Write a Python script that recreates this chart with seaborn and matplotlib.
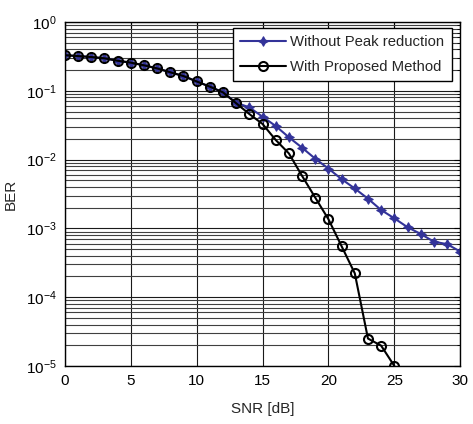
import matplotlib
matplotlib.use('Agg')
import matplotlib.pyplot as plt
from matplotlib.ticker import LogLocator, MultipleLocator, NullFormatter
import seaborn as sns
import pandas as pd

# BER curves (SNR in dB)
snr_without = list(range(0, 31))
ber_without = [0.33, 0.32, 0.31, 0.297, 0.274, 0.257, 0.235, 0.212, 0.186, 0.164,
               0.137, 0.115, 0.095, 0.067, 0.0575, 0.042, 0.0308, 0.0211, 0.0149,
               0.0103, 0.0074, 0.0052, 0.0038, 0.0027, 0.00185, 0.0014, 0.00104,
               0.00083, 0.00064, 0.00059, 0.00046]

snr_proposed = list(range(0, 26))
ber_proposed = [0.33, 0.32, 0.31, 0.297, 0.274, 0.257, 0.235, 0.212, 0.186, 0.164,
                0.137, 0.115, 0.095, 0.066, 0.046, 0.033, 0.0193, 0.0123, 0.0058,
                0.0028, 0.00136, 0.00055, 0.000222, 2.5e-5, 1.97e-5, 1.0e-5]

label_without = 'Without Peak reduction'
label_proposed = 'With Proposed Method'

sns.set_style('white')
plt.rcParams['font.family'] = ['Liberation Sans', 'DejaVu Sans']
plt.rcParams['mathtext.default'] = 'regular'

df_without = pd.DataFrame({'snr': snr_without, 'ber': ber_without})
df_proposed = pd.DataFrame({'snr': snr_proposed, 'ber': ber_proposed})

fig = plt.figure(figsize=(4.73, 4.24), dpi=100)
ax = fig.add_axes([0.137, 0.137, 0.836, 0.811])

sns.lineplot(data=df_without, x='snr', y='ber', ax=ax, color='#333399',
             linewidth=1.5, marker=(4, 1, 0), markersize=7,
             markeredgecolor='#333399', label=label_without)
sns.lineplot(data=df_proposed, x='snr', y='ber', ax=ax, color='black',
             linewidth=1.5, marker='o', markersize=6.5, markerfacecolor='none',
             markeredgecolor='black', markeredgewidth=1.5, label=label_proposed)

ax.set_yscale('log')
ax.set_xlim(0, 30)
ax.set_ylim(1e-5, 1)
ax.xaxis.set_major_locator(MultipleLocator(5))
ax.yaxis.set_major_locator(LogLocator(base=10, numticks=10))
ax.yaxis.set_minor_locator(LogLocator(base=10, subs=range(2, 10), numticks=20))
ax.yaxis.set_minor_formatter(NullFormatter())

ax.grid(True, which='major', color='0.1', linewidth=0.8)
ax.grid(True, which='minor', axis='y', color='0.25', linewidth=0.8)
ax.tick_params(which='both', direction='in', top=True, right=True,
               labelsize=11, colors='black')
ax.tick_params(which='major', length=4, pad=6)
ax.tick_params(which='minor', length=2)
for spine in ax.spines.values():
    spine.set_color('black')
    spine.set_linewidth(1)

ax.set_xlabel('SNR [dB]', fontsize=11, labelpad=10)
ax.set_ylabel('BER', fontsize=11, labelpad=6)

leg = ax.legend(loc='upper right', bbox_to_anchor=(0.978, 0.983), fontsize=10.7,
                frameon=True, fancybox=False, framealpha=1, edgecolor='black',
                handlelength=3.1, handletextpad=0.25, borderpad=0.5,
                labelspacing=0.7, borderaxespad=0)
leg.get_frame().set_linewidth(1)

fig.savefig('out.png', dpi=100)
